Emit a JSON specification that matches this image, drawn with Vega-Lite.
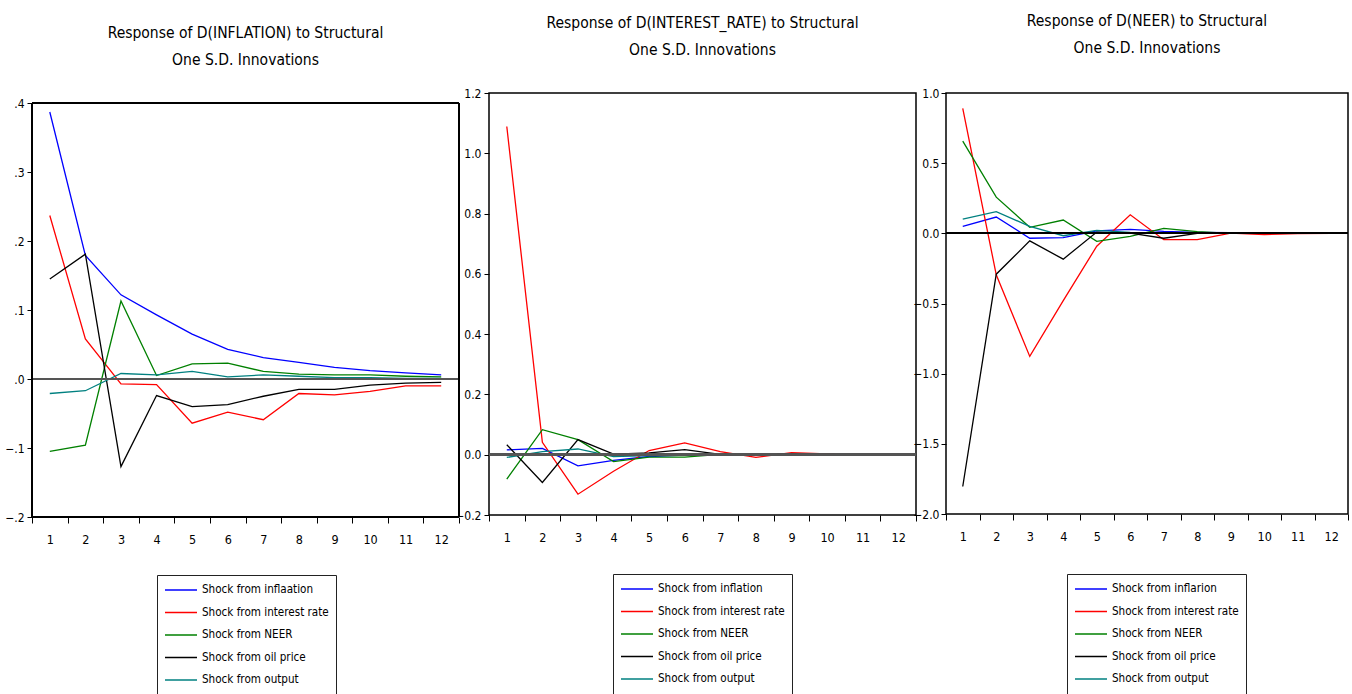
{
  "$schema": "https://vega.github.io/schema/vega-lite/v6.json",
  "padding": {"left": 0, "top": 12, "right": 0, "bottom": 0},
  "background": "white",
  "spacing": -6,
  "config": {
    "font": "Liberation Sans Narrow, Arial Narrow, DejaVu Sans Condensed, sans-serif",
    "view": {"stroke": "black", "strokeWidth": 1.5},
    "title": {"fontSize": 15.5, "fontWeight": "normal", "color": "black", "anchor": "middle", "lineHeight": 27, "font": "Liberation Sans Narrow, Arial Narrow, DejaVu Sans Condensed, sans-serif"},
    "axis": {"labelFontSize": 12.5, "labelColor": "black", "tickColor": "black", "domain": false, "grid": false, "title": null, "labelFont": "Liberation Sans Narrow, Arial Narrow, DejaVu Sans Condensed, sans-serif"},
    "axisX": {"labelAngle": 0, "tickBand": "extent", "tickSize": 6, "labelPadding": 10},
    "axisY": {"tickSize": 5, "labelPadding": 3, "labelFontSize": 12},
    "legend": {"orient": "none", "title": null, "symbolType": "stroke", "symbolSize": 1024, "symbolStrokeWidth": 1.5, "clipHeight": 16, "rowPadding": 6.5, "padding": 7, "labelOffset": 4, "labelFontSize": 11.6, "labelColor": "black", "strokeColor": "#222", "fillColor": "white", "labelFont": "Liberation Sans Narrow, Arial Narrow, DejaVu Sans Condensed, sans-serif", "labelLimit": 300}
  },
  "datasets": {
    "irf": [
      {"r":"INFLATION","s":"Shock from inflaation","p":1,"v":0.387},{"r":"INFLATION","s":"Shock from inflaation","p":2,"v":0.179},{"r":"INFLATION","s":"Shock from inflaation","p":3,"v":0.122},{"r":"INFLATION","s":"Shock from inflaation","p":4,"v":0.093},{"r":"INFLATION","s":"Shock from inflaation","p":5,"v":0.065},{"r":"INFLATION","s":"Shock from inflaation","p":6,"v":0.043},{"r":"INFLATION","s":"Shock from inflaation","p":7,"v":0.031},{"r":"INFLATION","s":"Shock from inflaation","p":8,"v":0.024},{"r":"INFLATION","s":"Shock from inflaation","p":9,"v":0.017},{"r":"INFLATION","s":"Shock from inflaation","p":10,"v":0.012},{"r":"INFLATION","s":"Shock from inflaation","p":11,"v":0.009},{"r":"INFLATION","s":"Shock from inflaation","p":12,"v":0.006},
      {"r":"INFLATION","s":"Shock from interest rate","p":1,"v":0.237},{"r":"INFLATION","s":"Shock from interest rate","p":2,"v":0.058},{"r":"INFLATION","s":"Shock from interest rate","p":3,"v":-0.007},{"r":"INFLATION","s":"Shock from interest rate","p":4,"v":-0.008},{"r":"INFLATION","s":"Shock from interest rate","p":5,"v":-0.064},{"r":"INFLATION","s":"Shock from interest rate","p":6,"v":-0.048},{"r":"INFLATION","s":"Shock from interest rate","p":7,"v":-0.059},{"r":"INFLATION","s":"Shock from interest rate","p":8,"v":-0.021},{"r":"INFLATION","s":"Shock from interest rate","p":9,"v":-0.023},{"r":"INFLATION","s":"Shock from interest rate","p":10,"v":-0.018},{"r":"INFLATION","s":"Shock from interest rate","p":11,"v":-0.010},{"r":"INFLATION","s":"Shock from interest rate","p":12,"v":-0.010},
      {"r":"INFLATION","s":"Shock from NEER","p":1,"v":-0.105},{"r":"INFLATION","s":"Shock from NEER","p":2,"v":-0.096},{"r":"INFLATION","s":"Shock from NEER","p":3,"v":0.113},{"r":"INFLATION","s":"Shock from NEER","p":4,"v":0.005},{"r":"INFLATION","s":"Shock from NEER","p":5,"v":0.022},{"r":"INFLATION","s":"Shock from NEER","p":6,"v":0.023},{"r":"INFLATION","s":"Shock from NEER","p":7,"v":0.011},{"r":"INFLATION","s":"Shock from NEER","p":8,"v":0.007},{"r":"INFLATION","s":"Shock from NEER","p":9,"v":0.006},{"r":"INFLATION","s":"Shock from NEER","p":10,"v":0.006},{"r":"INFLATION","s":"Shock from NEER","p":11,"v":0.004},{"r":"INFLATION","s":"Shock from NEER","p":12,"v":0.003},
      {"r":"INFLATION","s":"Shock from oil price","p":1,"v":0.145},{"r":"INFLATION","s":"Shock from oil price","p":2,"v":0.181},{"r":"INFLATION","s":"Shock from oil price","p":3,"v":-0.127},{"r":"INFLATION","s":"Shock from oil price","p":4,"v":-0.024},{"r":"INFLATION","s":"Shock from oil price","p":5,"v":-0.040},{"r":"INFLATION","s":"Shock from oil price","p":6,"v":-0.037},{"r":"INFLATION","s":"Shock from oil price","p":7,"v":-0.025},{"r":"INFLATION","s":"Shock from oil price","p":8,"v":-0.015},{"r":"INFLATION","s":"Shock from oil price","p":9,"v":-0.015},{"r":"INFLATION","s":"Shock from oil price","p":10,"v":-0.009},{"r":"INFLATION","s":"Shock from oil price","p":11,"v":-0.006},{"r":"INFLATION","s":"Shock from oil price","p":12,"v":-0.005},
      {"r":"INFLATION","s":"Shock from output","p":1,"v":-0.021},{"r":"INFLATION","s":"Shock from output","p":2,"v":-0.017},{"r":"INFLATION","s":"Shock from output","p":3,"v":0.008},{"r":"INFLATION","s":"Shock from output","p":4,"v":0.006},{"r":"INFLATION","s":"Shock from output","p":5,"v":0.011},{"r":"INFLATION","s":"Shock from output","p":6,"v":0.003},{"r":"INFLATION","s":"Shock from output","p":7,"v":0.006},{"r":"INFLATION","s":"Shock from output","p":8,"v":0.004},{"r":"INFLATION","s":"Shock from output","p":9,"v":0.002},{"r":"INFLATION","s":"Shock from output","p":10,"v":0.002},{"r":"INFLATION","s":"Shock from output","p":11,"v":0.001},{"r":"INFLATION","s":"Shock from output","p":12,"v":0.001},

      {"r":"INTEREST_RATE","s":"Shock from inflation","p":1,"v":0.016},{"r":"INTEREST_RATE","s":"Shock from inflation","p":2,"v":0.021},{"r":"INTEREST_RATE","s":"Shock from inflation","p":3,"v":-0.037},{"r":"INTEREST_RATE","s":"Shock from inflation","p":4,"v":-0.019},{"r":"INTEREST_RATE","s":"Shock from inflation","p":5,"v":-0.006},{"r":"INTEREST_RATE","s":"Shock from inflation","p":6,"v":-0.001},{"r":"INTEREST_RATE","s":"Shock from inflation","p":7,"v":-0.002},{"r":"INTEREST_RATE","s":"Shock from inflation","p":8,"v":-0.002},{"r":"INTEREST_RATE","s":"Shock from inflation","p":9,"v":0.0},{"r":"INTEREST_RATE","s":"Shock from inflation","p":10,"v":0.0},{"r":"INTEREST_RATE","s":"Shock from inflation","p":11,"v":0.0},{"r":"INTEREST_RATE","s":"Shock from inflation","p":12,"v":0.0},
      {"r":"INTEREST_RATE","s":"Shock from interest rate","p":1,"v":1.089},{"r":"INTEREST_RATE","s":"Shock from interest rate","p":2,"v":0.041},{"r":"INTEREST_RATE","s":"Shock from interest rate","p":3,"v":-0.131},{"r":"INTEREST_RATE","s":"Shock from interest rate","p":4,"v":-0.055},{"r":"INTEREST_RATE","s":"Shock from interest rate","p":5,"v":0.014},{"r":"INTEREST_RATE","s":"Shock from interest rate","p":6,"v":0.039},{"r":"INTEREST_RATE","s":"Shock from interest rate","p":7,"v":0.010},{"r":"INTEREST_RATE","s":"Shock from interest rate","p":8,"v":-0.009},{"r":"INTEREST_RATE","s":"Shock from interest rate","p":9,"v":0.007},{"r":"INTEREST_RATE","s":"Shock from interest rate","p":10,"v":0.003},{"r":"INTEREST_RATE","s":"Shock from interest rate","p":11,"v":0.0},{"r":"INTEREST_RATE","s":"Shock from interest rate","p":12,"v":0.0},
      {"r":"INTEREST_RATE","s":"Shock from NEER","p":1,"v":-0.081},{"r":"INTEREST_RATE","s":"Shock from NEER","p":2,"v":0.083},{"r":"INTEREST_RATE","s":"Shock from NEER","p":3,"v":0.050},{"r":"INTEREST_RATE","s":"Shock from NEER","p":4,"v":-0.023},{"r":"INTEREST_RATE","s":"Shock from NEER","p":5,"v":-0.008},{"r":"INTEREST_RATE","s":"Shock from NEER","p":6,"v":-0.008},{"r":"INTEREST_RATE","s":"Shock from NEER","p":7,"v":0.001},{"r":"INTEREST_RATE","s":"Shock from NEER","p":8,"v":0.001},{"r":"INTEREST_RATE","s":"Shock from NEER","p":9,"v":0.0},{"r":"INTEREST_RATE","s":"Shock from NEER","p":10,"v":0.0},{"r":"INTEREST_RATE","s":"Shock from NEER","p":11,"v":0.0},{"r":"INTEREST_RATE","s":"Shock from NEER","p":12,"v":0.0},
      {"r":"INTEREST_RATE","s":"Shock from oil price","p":1,"v":0.033},{"r":"INTEREST_RATE","s":"Shock from oil price","p":2,"v":-0.092},{"r":"INTEREST_RATE","s":"Shock from oil price","p":3,"v":0.050},{"r":"INTEREST_RATE","s":"Shock from oil price","p":4,"v":0.002},{"r":"INTEREST_RATE","s":"Shock from oil price","p":5,"v":0.006},{"r":"INTEREST_RATE","s":"Shock from oil price","p":6,"v":0.017},{"r":"INTEREST_RATE","s":"Shock from oil price","p":7,"v":0.001},{"r":"INTEREST_RATE","s":"Shock from oil price","p":8,"v":0.002},{"r":"INTEREST_RATE","s":"Shock from oil price","p":9,"v":0.003},{"r":"INTEREST_RATE","s":"Shock from oil price","p":10,"v":0.001},{"r":"INTEREST_RATE","s":"Shock from oil price","p":11,"v":0.0},{"r":"INTEREST_RATE","s":"Shock from oil price","p":12,"v":0.0},
      {"r":"INTEREST_RATE","s":"Shock from output","p":1,"v":-0.009},{"r":"INTEREST_RATE","s":"Shock from output","p":2,"v":0.010},{"r":"INTEREST_RATE","s":"Shock from output","p":3,"v":0.019},{"r":"INTEREST_RATE","s":"Shock from output","p":4,"v":-0.006},{"r":"INTEREST_RATE","s":"Shock from output","p":5,"v":-0.003},{"r":"INTEREST_RATE","s":"Shock from output","p":6,"v":0.001},{"r":"INTEREST_RATE","s":"Shock from output","p":7,"v":0.0},{"r":"INTEREST_RATE","s":"Shock from output","p":8,"v":0.0},{"r":"INTEREST_RATE","s":"Shock from output","p":9,"v":0.0},{"r":"INTEREST_RATE","s":"Shock from output","p":10,"v":0.0},{"r":"INTEREST_RATE","s":"Shock from output","p":11,"v":0.0},{"r":"INTEREST_RATE","s":"Shock from output","p":12,"v":0.0},

      {"r":"NEER","s":"Shock from inflarion","p":1,"v":0.050},{"r":"NEER","s":"Shock from inflarion","p":2,"v":0.116},{"r":"NEER","s":"Shock from inflarion","p":3,"v":-0.035},{"r":"NEER","s":"Shock from inflarion","p":4,"v":-0.031},{"r":"NEER","s":"Shock from inflarion","p":5,"v":0.017},{"r":"NEER","s":"Shock from inflarion","p":6,"v":0.028},{"r":"NEER","s":"Shock from inflarion","p":7,"v":0.014},{"r":"NEER","s":"Shock from inflarion","p":8,"v":0.007},{"r":"NEER","s":"Shock from inflarion","p":9,"v":0.004},{"r":"NEER","s":"Shock from inflarion","p":10,"v":0.002},{"r":"NEER","s":"Shock from inflarion","p":11,"v":0.001},{"r":"NEER","s":"Shock from inflarion","p":12,"v":0.0},
      {"r":"NEER","s":"Shock from interest rate","p":1,"v":0.891},{"r":"NEER","s":"Shock from interest rate","p":2,"v":-0.296},{"r":"NEER","s":"Shock from interest rate","p":3,"v":-0.877},{"r":"NEER","s":"Shock from interest rate","p":4,"v":-0.479},{"r":"NEER","s":"Shock from interest rate","p":5,"v":-0.092},{"r":"NEER","s":"Shock from interest rate","p":6,"v":0.132},{"r":"NEER","s":"Shock from interest rate","p":7,"v":-0.045},{"r":"NEER","s":"Shock from interest rate","p":8,"v":-0.045},{"r":"NEER","s":"Shock from interest rate","p":9,"v":0.002},{"r":"NEER","s":"Shock from interest rate","p":10,"v":-0.009},{"r":"NEER","s":"Shock from interest rate","p":11,"v":-0.002},{"r":"NEER","s":"Shock from interest rate","p":12,"v":0.0},
      {"r":"NEER","s":"Shock from NEER","p":1,"v":0.657},{"r":"NEER","s":"Shock from NEER","p":2,"v":0.258},{"r":"NEER","s":"Shock from NEER","p":3,"v":0.043},{"r":"NEER","s":"Shock from NEER","p":4,"v":0.095},{"r":"NEER","s":"Shock from NEER","p":5,"v":-0.057},{"r":"NEER","s":"Shock from NEER","p":6,"v":-0.021},{"r":"NEER","s":"Shock from NEER","p":7,"v":0.035},{"r":"NEER","s":"Shock from NEER","p":8,"v":0.012},{"r":"NEER","s":"Shock from NEER","p":9,"v":0.0},{"r":"NEER","s":"Shock from NEER","p":10,"v":0.002},{"r":"NEER","s":"Shock from NEER","p":11,"v":0.0},{"r":"NEER","s":"Shock from NEER","p":12,"v":0.0},
      {"r":"NEER","s":"Shock from oil price","p":1,"v":-1.804},{"r":"NEER","s":"Shock from oil price","p":2,"v":-0.291},{"r":"NEER","s":"Shock from oil price","p":3,"v":-0.054},{"r":"NEER","s":"Shock from oil price","p":4,"v":-0.184},{"r":"NEER","s":"Shock from oil price","p":5,"v":0.009},{"r":"NEER","s":"Shock from oil price","p":6,"v":0.002},{"r":"NEER","s":"Shock from oil price","p":7,"v":-0.035},{"r":"NEER","s":"Shock from oil price","p":8,"v":0.0},{"r":"NEER","s":"Shock from oil price","p":9,"v":0.0},{"r":"NEER","s":"Shock from oil price","p":10,"v":0.0},{"r":"NEER","s":"Shock from oil price","p":11,"v":0.0},{"r":"NEER","s":"Shock from oil price","p":12,"v":0.0},
      {"r":"NEER","s":"Shock from output","p":1,"v":0.102},{"r":"NEER","s":"Shock from output","p":2,"v":0.154},{"r":"NEER","s":"Shock from output","p":3,"v":0.050},{"r":"NEER","s":"Shock from output","p":4,"v":-0.017},{"r":"NEER","s":"Shock from output","p":5,"v":0.021},{"r":"NEER","s":"Shock from output","p":6,"v":0.007},{"r":"NEER","s":"Shock from output","p":7,"v":0.002},{"r":"NEER","s":"Shock from output","p":8,"v":0.0},{"r":"NEER","s":"Shock from output","p":9,"v":0.0},{"r":"NEER","s":"Shock from output","p":10,"v":0.0},{"r":"NEER","s":"Shock from output","p":11,"v":0.0},{"r":"NEER","s":"Shock from output","p":12,"v":0.0}
    ]
  },
  "data": {"name": "irf"},
  "resolve": {"scale": {"y": "independent", "color": "independent", "x": "independent"}, "legend": {"color": "independent"}},
  "hconcat": [
    {
      "width": 427, "height": 424,
      "view": {"stroke": null},
      "title": {"text": ["Response of D(INFLATION) to Structural", "One S.D. Innovations"], "offset": 25},
      "transform": [{"filter": "datum.r === 'INFLATION'"}],
      "layer": [
        {
          "mark": {"type": "line", "strokeWidth": 1.3},
          "encoding": {
            "x": {"field": "p", "type": "ordinal", "scale": {"type": "band", "paddingInner": 0, "paddingOuter": 0}, "axis": {"title": null}},
            "y": {"field": "v", "type": "quantitative", "scale": {"domain": [-0.2, 0.4145], "nice": false, "zero": false}, "axis": {"values": [-0.2, -0.1, 0, 0.1, 0.2, 0.3, 0.4], "labelExpr": "replace(format(datum.value, '.1f'), '0.', '.')", "minExtent": 32, "maxExtent": 32}},
            "color": {"field": "s", "type": "nominal", "sort": null,
              "scale": {"domain": ["Shock from inflaation", "Shock from interest rate", "Shock from NEER", "Shock from oil price", "Shock from output"], "range": ["#0000ff", "#ff0000", "#008000", "#000000", "#008080"]},
              "legend": {"legendX": 125, "legendY": 482}}
          }
        },
        {"mark": {"type": "rule", "color": "#555555", "strokeWidth": 2}, "encoding": {"y": {"datum": 0, "type": "quantitative"}}},
        {"mark": {"type": "rule", "color": "black", "strokeWidth": 1.5}, "encoding": {"y": {"datum": 0.4, "type": "quantitative"}}},
        {"mark": {"type": "rule", "color": "black", "strokeWidth": 1.5}, "encoding": {"y": {"datum": -0.2, "type": "quantitative"}}},
        {"mark": {"type": "rule", "color": "black", "strokeWidth": 1.5}, "encoding": {"x": {"datum": 1, "type": "ordinal", "bandPosition": 0}, "y": {"datum": -0.2, "type": "quantitative"}, "y2": {"datum": 0.4}}},
        {"mark": {"type": "rule", "color": "black", "strokeWidth": 1.5}, "encoding": {"x": {"datum": 12, "type": "ordinal", "bandPosition": 1}, "y": {"datum": -0.2, "type": "quantitative"}, "y2": {"datum": 0.4}}}
      ]
    },
    {
      "width": 427, "height": 422,
      "title": {"text": ["Response of D(INTEREST_RATE) to Structural", "One S.D. Innovations"], "offset": 29},
      "transform": [{"filter": "datum.r === 'INTEREST_RATE'"}],
      "layer": [
        {
          "mark": {"type": "line", "strokeWidth": 1.3},
          "encoding": {
            "x": {"field": "p", "type": "ordinal", "scale": {"type": "band", "paddingInner": 0, "paddingOuter": 0}, "axis": {"title": null}},
            "y": {"field": "v", "type": "quantitative", "scale": {"domain": [-0.2, 1.2], "nice": false, "zero": false}, "axis": {"values": [-0.2, 0, 0.2, 0.4, 0.6, 0.8, 1.0, 1.2], "format": ".1f", "minExtent": 32, "maxExtent": 32}},
            "color": {"field": "s", "type": "nominal", "sort": null,
              "scale": {"domain": ["Shock from inflation", "Shock from interest rate", "Shock from NEER", "Shock from oil price", "Shock from output"], "range": ["#0000ff", "#ff0000", "#008000", "#000000", "#008080"]},
              "legend": {"legendX": 124, "legendY": 481}}
          }
        },
        {"mark": {"type": "rule", "color": "#555555", "strokeWidth": 2}, "encoding": {"y": {"datum": 0, "type": "quantitative"}}}
      ]
    },
    {
      "width": 402, "height": 421,
      "title": {"text": ["Response of D(NEER) to Structural", "One S.D. Innovations"], "offset": 31},
      "transform": [{"filter": "datum.r === 'NEER'"}],
      "layer": [
        {
          "mark": {"type": "line", "strokeWidth": 1.3},
          "encoding": {
            "x": {"field": "p", "type": "ordinal", "scale": {"type": "band", "paddingInner": 0, "paddingOuter": 0}, "axis": {"title": null}},
            "y": {"field": "v", "type": "quantitative", "scale": {"domain": [-2.0, 1.0], "nice": false, "zero": false}, "axis": {"values": [-2.0, -1.5, -1.0, -0.5, 0, 0.5, 1.0], "format": ".1f", "labelPadding": 2, "minExtent": 31, "maxExtent": 31}},
            "color": {"field": "s", "type": "nominal", "sort": null,
              "scale": {"domain": ["Shock from inflarion", "Shock from interest rate", "Shock from NEER", "Shock from oil price", "Shock from output"], "range": ["#0000ff", "#ff0000", "#008000", "#000000", "#008080"]},
              "legend": {"legendX": 121, "legendY": 481}}
          }
        },
        {"mark": {"type": "rule", "color": "#000000", "strokeWidth": 1.5}, "encoding": {"y": {"datum": 0, "type": "quantitative"}}}
      ]
    }
  ]
}
